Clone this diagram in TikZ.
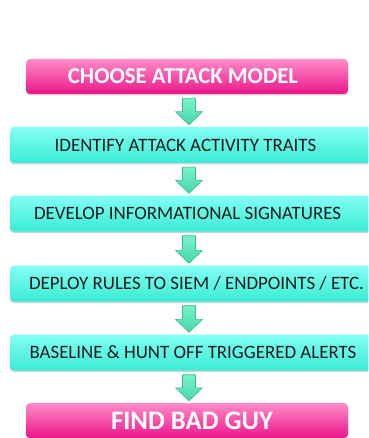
\documentclass[tikz,border=0pt]{standalone}
\usepackage{fontspec}
\setmainfont{Carlito}
\usetikzlibrary{calc,shadows}

\definecolor{pinktop}{RGB}{255,140,200}
\definecolor{pinkbot}{RGB}{236,22,140}
\definecolor{cyantop}{RGB}{132,255,246}
\definecolor{cyanbot}{RGB}{58,236,212}
\definecolor{mintlight}{RGB}{122,242,204}
\definecolor{mintdark}{RGB}{70,214,170}
\definecolor{mintedge}{RGB}{52,190,146}
\definecolor{stepink}{RGB}{28,28,28}

\tikzset{
  goalbox/.style={rectangle, rounded corners=4pt, top color=pinktop, bottom color=pinkbot,
    draw=none, text=white, font=\bfseries\fontsize{22.7}{26}\selectfont,
    minimum width=322pt, minimum height=35pt, inner sep=0pt,
    drop shadow={shadow xshift=0pt, shadow yshift=-1.5pt, opacity=0.35}},
  stepbox/.style={rectangle, rounded corners=4pt, top color=cyantop, bottom color=cyanbot,
    draw=none, text=stepink, font=\fontsize{18.9}{22}\selectfont,
    minimum width=364pt, minimum height=36pt, inner sep=0pt,
    drop shadow={shadow xshift=0pt, shadow yshift=-1.5pt, opacity=0.35}},
  blockarrow/.style={top color=mintlight, bottom color=mintdark, draw=mintedge, line width=0.6pt, line join=round}
}

% centred text moved sideways by #1 inside its box
\newcommand{\nudged}[2]{\hspace*{#1}\hspace*{#1}#2}

% block arrow from the bottom of #1 to the top of #2, on the column axis
\newcommand{\flowarrow}[2]{%
  \path[blockarrow] let \p1=(#1.south), \p2=(#2.north), \p3=(axis) in
    (\x3-6.5pt,\y1-4pt) -- (\x3+6.5pt,\y1-4pt) -- (\x3+6.5pt,\y2+15pt) --
    (\x3+13.5pt,\y2+15pt) -- (\x3,\y2+2pt) -- (\x3-13.5pt,\y2+15pt) --
    (\x3-6.5pt,\y2+15pt) -- cycle;}

\begin{document}
\begin{tikzpicture}[x=1pt,y=-1pt]
  \useasboundingbox (0,0) rectangle (368,438);
  \clip (0,0) rectangle (368,438);
  \fill[white] (0,0) rectangle (368,438);

  \coordinate (axis) at (189,0);

  \node[goalbox] (model) at (187,76.5) {\nudged{-4pt}{CHOOSE ATTACK MODEL}};
  \node[stepbox] (traits) at (192,145) {\nudged{-6.5pt}{IDENTIFY ATTACK ACTIVITY TRAITS}};
  \node[stepbox] (sigs) at (192,213.5) {\nudged{-4.5pt}{DEVELOP INFORMATIONAL SIGNATURES}};
  \node[stepbox] (rules) at (192,283.5) {\nudged{4.5pt}{DEPLOY RULES TO SIEM / ENDPOINTS / ETC.}};
  \node[stepbox] (hunt) at (192,352.5) {\nudged{1pt}{BASELINE \& HUNT OFF TRIGGERED ALERTS}};
  \node[goalbox, font=\bfseries\fontsize{26.7}{30}\selectfont] (badguy) at (187,420.5) {\nudged{5pt}{FIND BAD GUY}};

  \flowarrow{model}{traits}
  \flowarrow{traits}{sigs}
  \flowarrow{sigs}{rules}
  \flowarrow{rules}{hunt}
  \flowarrow{hunt}{badguy}
\end{tikzpicture}
\end{document}
